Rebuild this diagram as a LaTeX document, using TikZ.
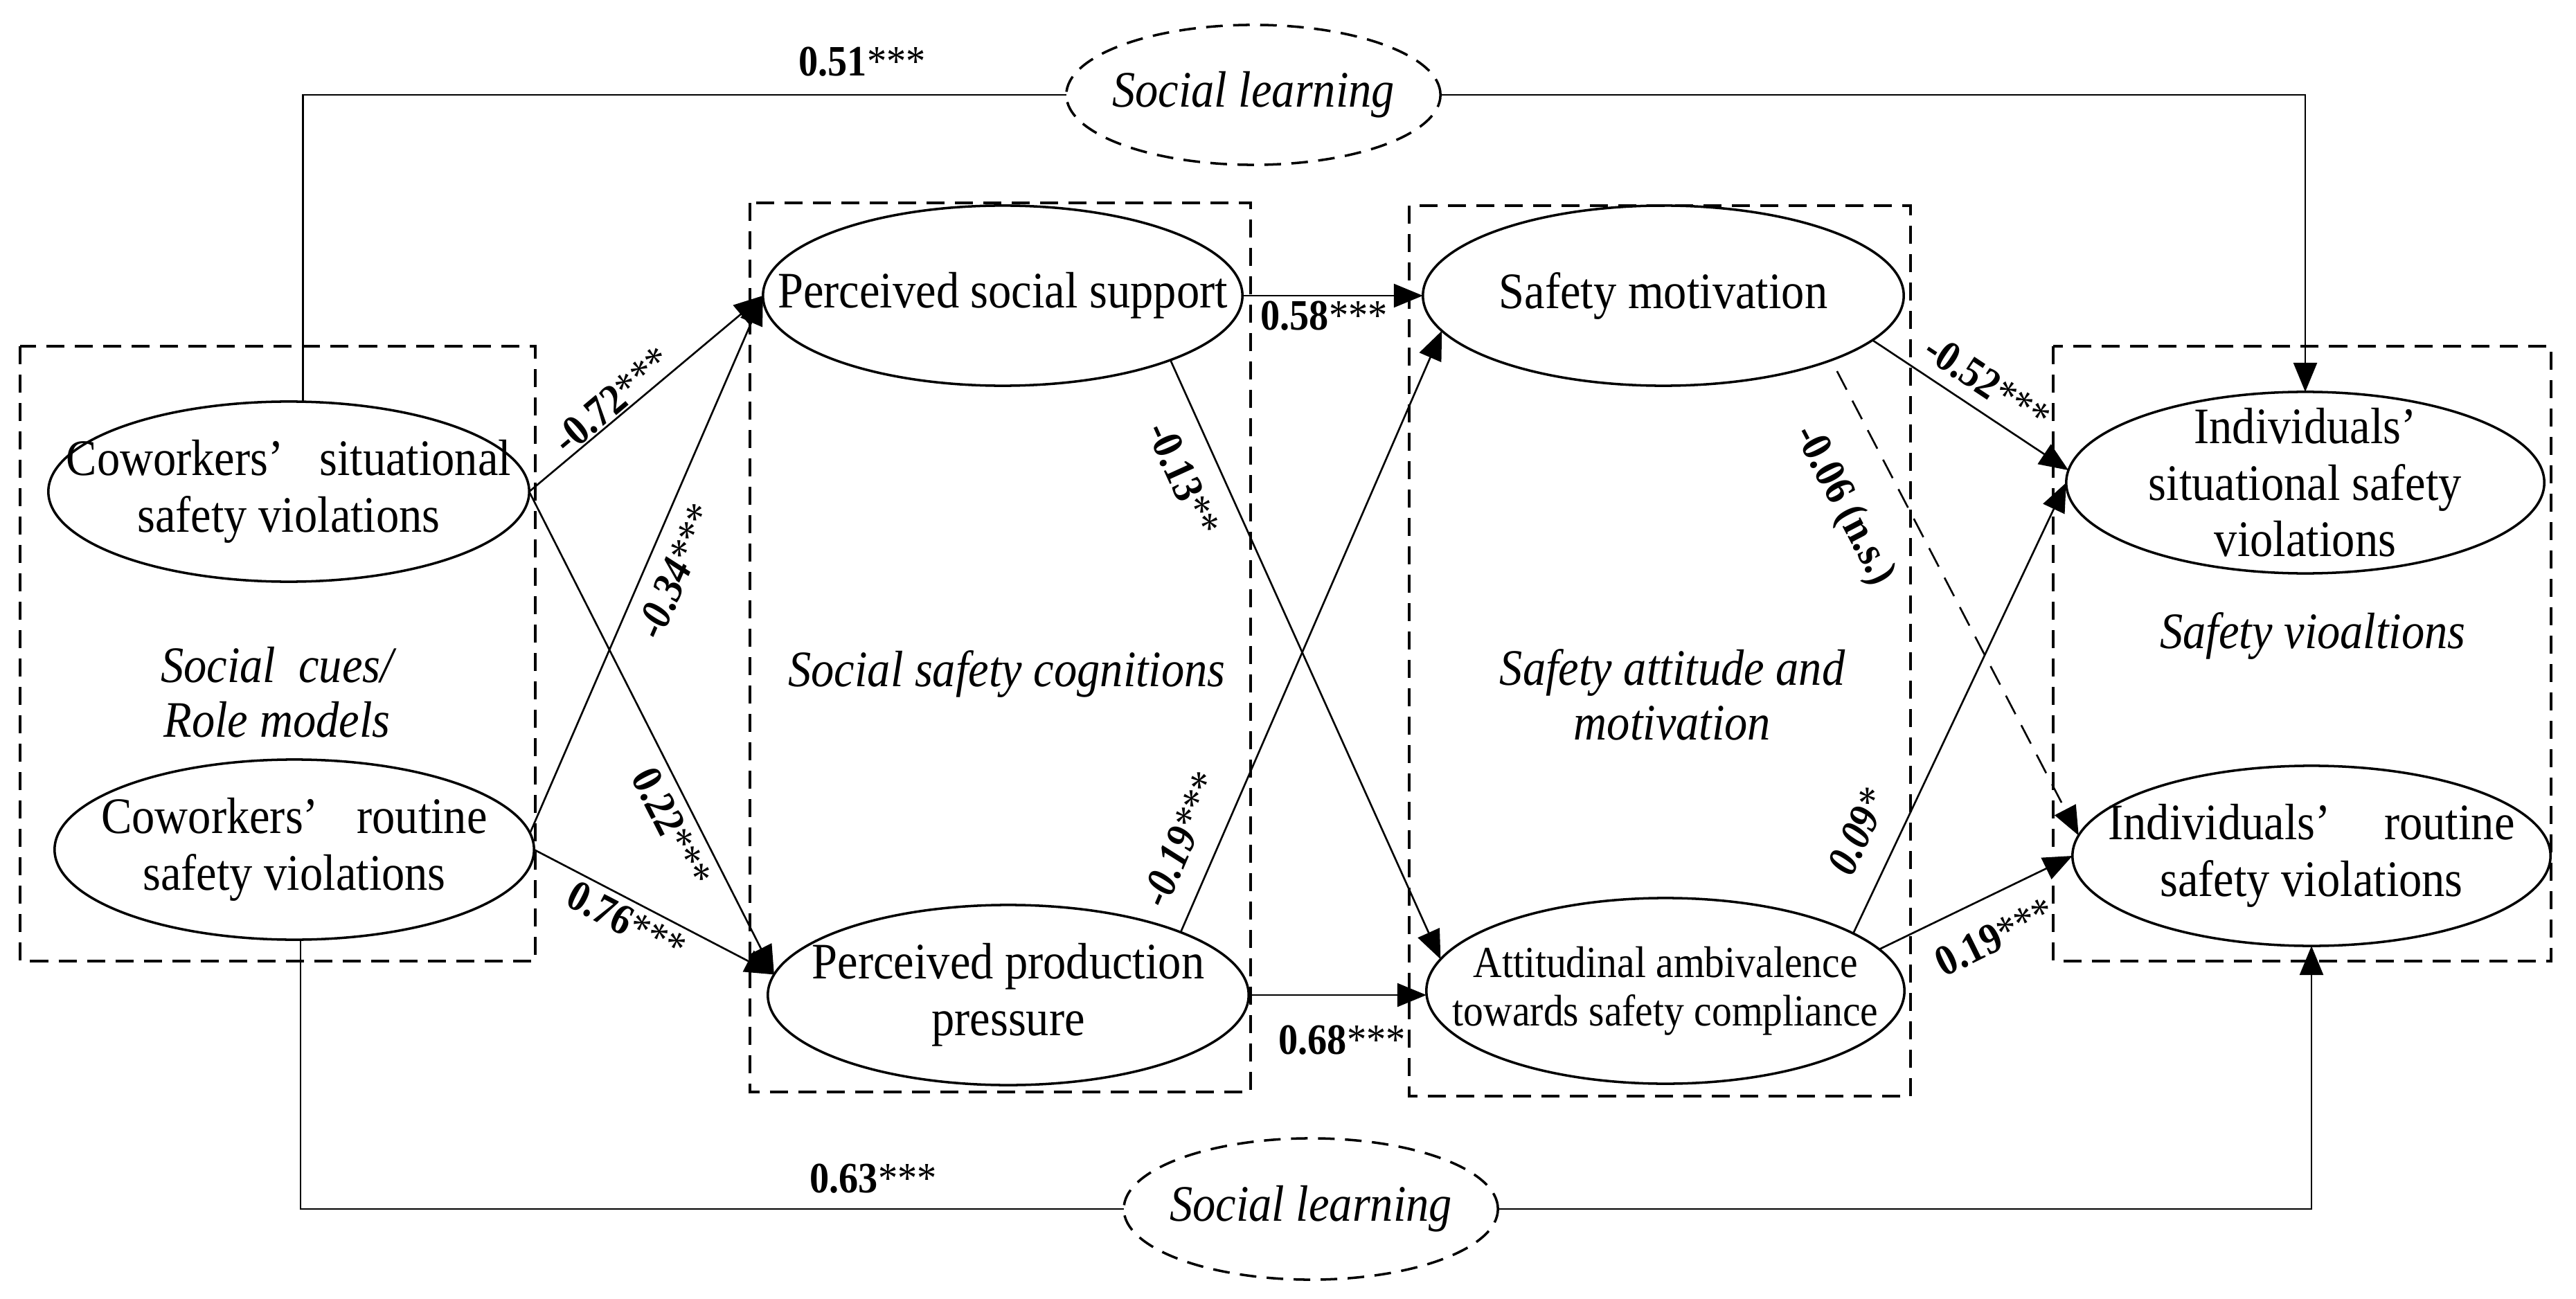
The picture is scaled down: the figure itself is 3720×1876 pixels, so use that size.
\documentclass[tikz,border=0pt]{standalone}
\usepackage{fontspec}
\setmainfont{Liberation Serif}[FakeStretch=0.9]
\usetikzlibrary{shapes.geometric,arrows.meta,calc}
\begin{document}
\begin{tikzpicture}[x=0.01cm,y=-0.01cm,
  ell/.style={ellipse,draw,line width=1pt,inner sep=0pt,outer sep=0pt},
  dell/.style={ellipse,draw,line width=1pt,dash pattern=on 0.24cm off 0.15cm,inner sep=0pt,outer sep=0pt},
  grp/.style={draw,line width=1pt,dash pattern=on 0.26cm off 0.15cm},
  txt/.style={align=center,font=\fontsize{21}{23.2}\selectfont,inner sep=0pt},
  stxt/.style={align=center,font=\fontsize{18.2}{19.8}\selectfont,inner sep=0pt},
  itxt/.style={align=center,font=\fontsize{21}{22.5}\selectfont\itshape,inner sep=0pt},
  lab/.style={font=\fontsize{17.8}{19}\selectfont\bfseries,inner sep=0pt},
  con/.style={draw,line width=0.75pt},
  arr/.style={con,-{Triangle[length=0.42cm,width=0.34cm]}},
  darr/.style={arr,dash pattern=on 0.3cm off 0.18cm}
]
\useasboundingbox (0,0) rectangle (3720,1876);

% group boxes
\draw[grp] (29,500) rectangle (773,1388);
\draw[grp] (1083,293) rectangle (1806,1577);
\draw[grp] (2035,297) rectangle (2759,1583);
\draw[grp] (2965,500) rectangle (3684,1388);

% group titles
\node[itxt] (g1) at (400,1000) {Social\ \ cues/\\Role models};
\node[itxt] (g2) at (1454,973) {Social safety cognitions};
\node[itxt] (g3) at (2415,1003) {Safety attitude and\\motivation};
\node[itxt] (g4) at (3340,918) {Safety vioaltions};

% ellipses
\node[ell,minimum width=6.94cm,minimum height=2.6cm] (CSV) at (417,710) {};
\node[txt] (CSVt) at (CSV) {Coworkers’\hspace{0.7em}situational\\safety violations};
\node[ell,minimum width=6.92cm,minimum height=2.6cm] (CRV) at (425,1227) {};
\node[txt] (CRVt) at (CRV) {Coworkers’\hspace{0.75em}routine\\safety violations};
\node[ell,minimum width=6.92cm,minimum height=2.6cm] (PSS) at (1448,427) {};
\node[txt] (PSSt) at (PSS) {Perceived social support};
\node[ell,minimum width=6.94cm,minimum height=2.6cm] (PPP) at (1456,1437) {};
\node[txt] (PPPt) at (PPP) {Perceived production\\pressure};
\node[ell,minimum width=6.94cm,minimum height=2.6cm] (SM) at (2402,427) {};
\node[txt] (SMt) at (SM) {Safety motivation};
\node[ell,minimum width=6.9cm,minimum height=2.68cm] (AA) at (2405,1431) {};
\node[stxt] (AAt) at (AA) {Attitudinal ambivalence\\towards safety compliance};
\node[ell,minimum width=6.9cm,minimum height=2.62cm] (ISV) at (3329,697) {};
\node[txt] (ISVt) at (ISV) {Individuals’\\situational safety\\violations};
\node[ell,minimum width=6.9cm,minimum height=2.6cm] (IRV) at (3338,1236) {};
\node[txt] (IRVt) at (IRV) {Individuals’\hspace{1.05em}routine\\safety violations};

\node[dell,minimum width=5.4cm,minimum height=2.02cm] (SLT) at (1810,137) {};
\node[itxt] (SLTt) at (SLT) {Social learning};
\node[dell,minimum width=5.4cm,minimum height=2.04cm] (SLB) at (1893,1746) {};
\node[itxt] (SLBt) at (SLB) {Social learning};

% social learning paths
\draw[con] (CSV.81) |- (SLT.west);
\draw[arr] (SLT.east) -| (ISV.north);
\draw[con] (CRV.274) |- (SLB.west);
\draw[arr] (SLB.east) -| (IRV.south);

% structural paths
\draw[arr] (CSV.east) -- (PSS.west);
\draw[arr] (CSV.east) -- (PPP.175);
\draw[arr] (CRV.4) -- (PSS.west);
\draw[arr] (CRV.east) -- (PPP.175);
\draw[arr] (PSS.east) -- (SM.west);
\draw[arr] (PSS.339) -- (AA.172);
\draw[arr] (PPP.20) -- (SM.189);
\draw[arr] (PPP.east) -- (PPP.east -| AA.west);
\draw[arr] (SM.348) -- (ISV.177);
\draw[darr,shorten <=0.18cm] (SM.339) -- (IRV.175);
\draw[arr] (AA.17) -- (ISV.west);
\draw[arr] (AA.11) -- (IRV.west);

% coefficients
\node[lab] (l51) at (1245,89) {0.51\textmd{***}};
\node[lab] (l63) at (1261,1702) {0.63\textmd{***}};
\node[lab] (l58) at (1912,456) {0.58\textmd{***}};
\node[lab] (l68) at (1938,1502) {0.68\textmd{***}};
\node[lab,rotate=40] (l72) at (884,578) {-0.72\textmd{***}};
\node[lab,rotate=66.4] (l34) at (976,826) {\itshape -0.34\textmd{***}};
\node[lab,rotate=-63] (l22) at (970,1195) {0.22\textmd{***}};
\node[lab,rotate=-27.4] (l76) at (905,1331) {0.76\textmd{***}};
\node[lab,rotate=-65.6] (l13) at (1709,692) {-0.13\textmd{**}};
\node[lab,rotate=66.8] (l19) at (1705,1213) {\itshape -0.19\textmd{***}};
\node[lab,rotate=-33.6] (l52) at (2870,553) {-0.52\textmd{***}};
\node[lab,rotate=-62.4] (l06) at (2662,730) {-0.06 (n.s.)};
\node[lab,rotate=64.7] (l09) at (2683,1201) {\itshape 0.09\textmd{*}};
\node[lab,rotate=26.3] (l19b) at (2881,1353) {0.19\textmd{***}};
\end{tikzpicture}
\end{document}
